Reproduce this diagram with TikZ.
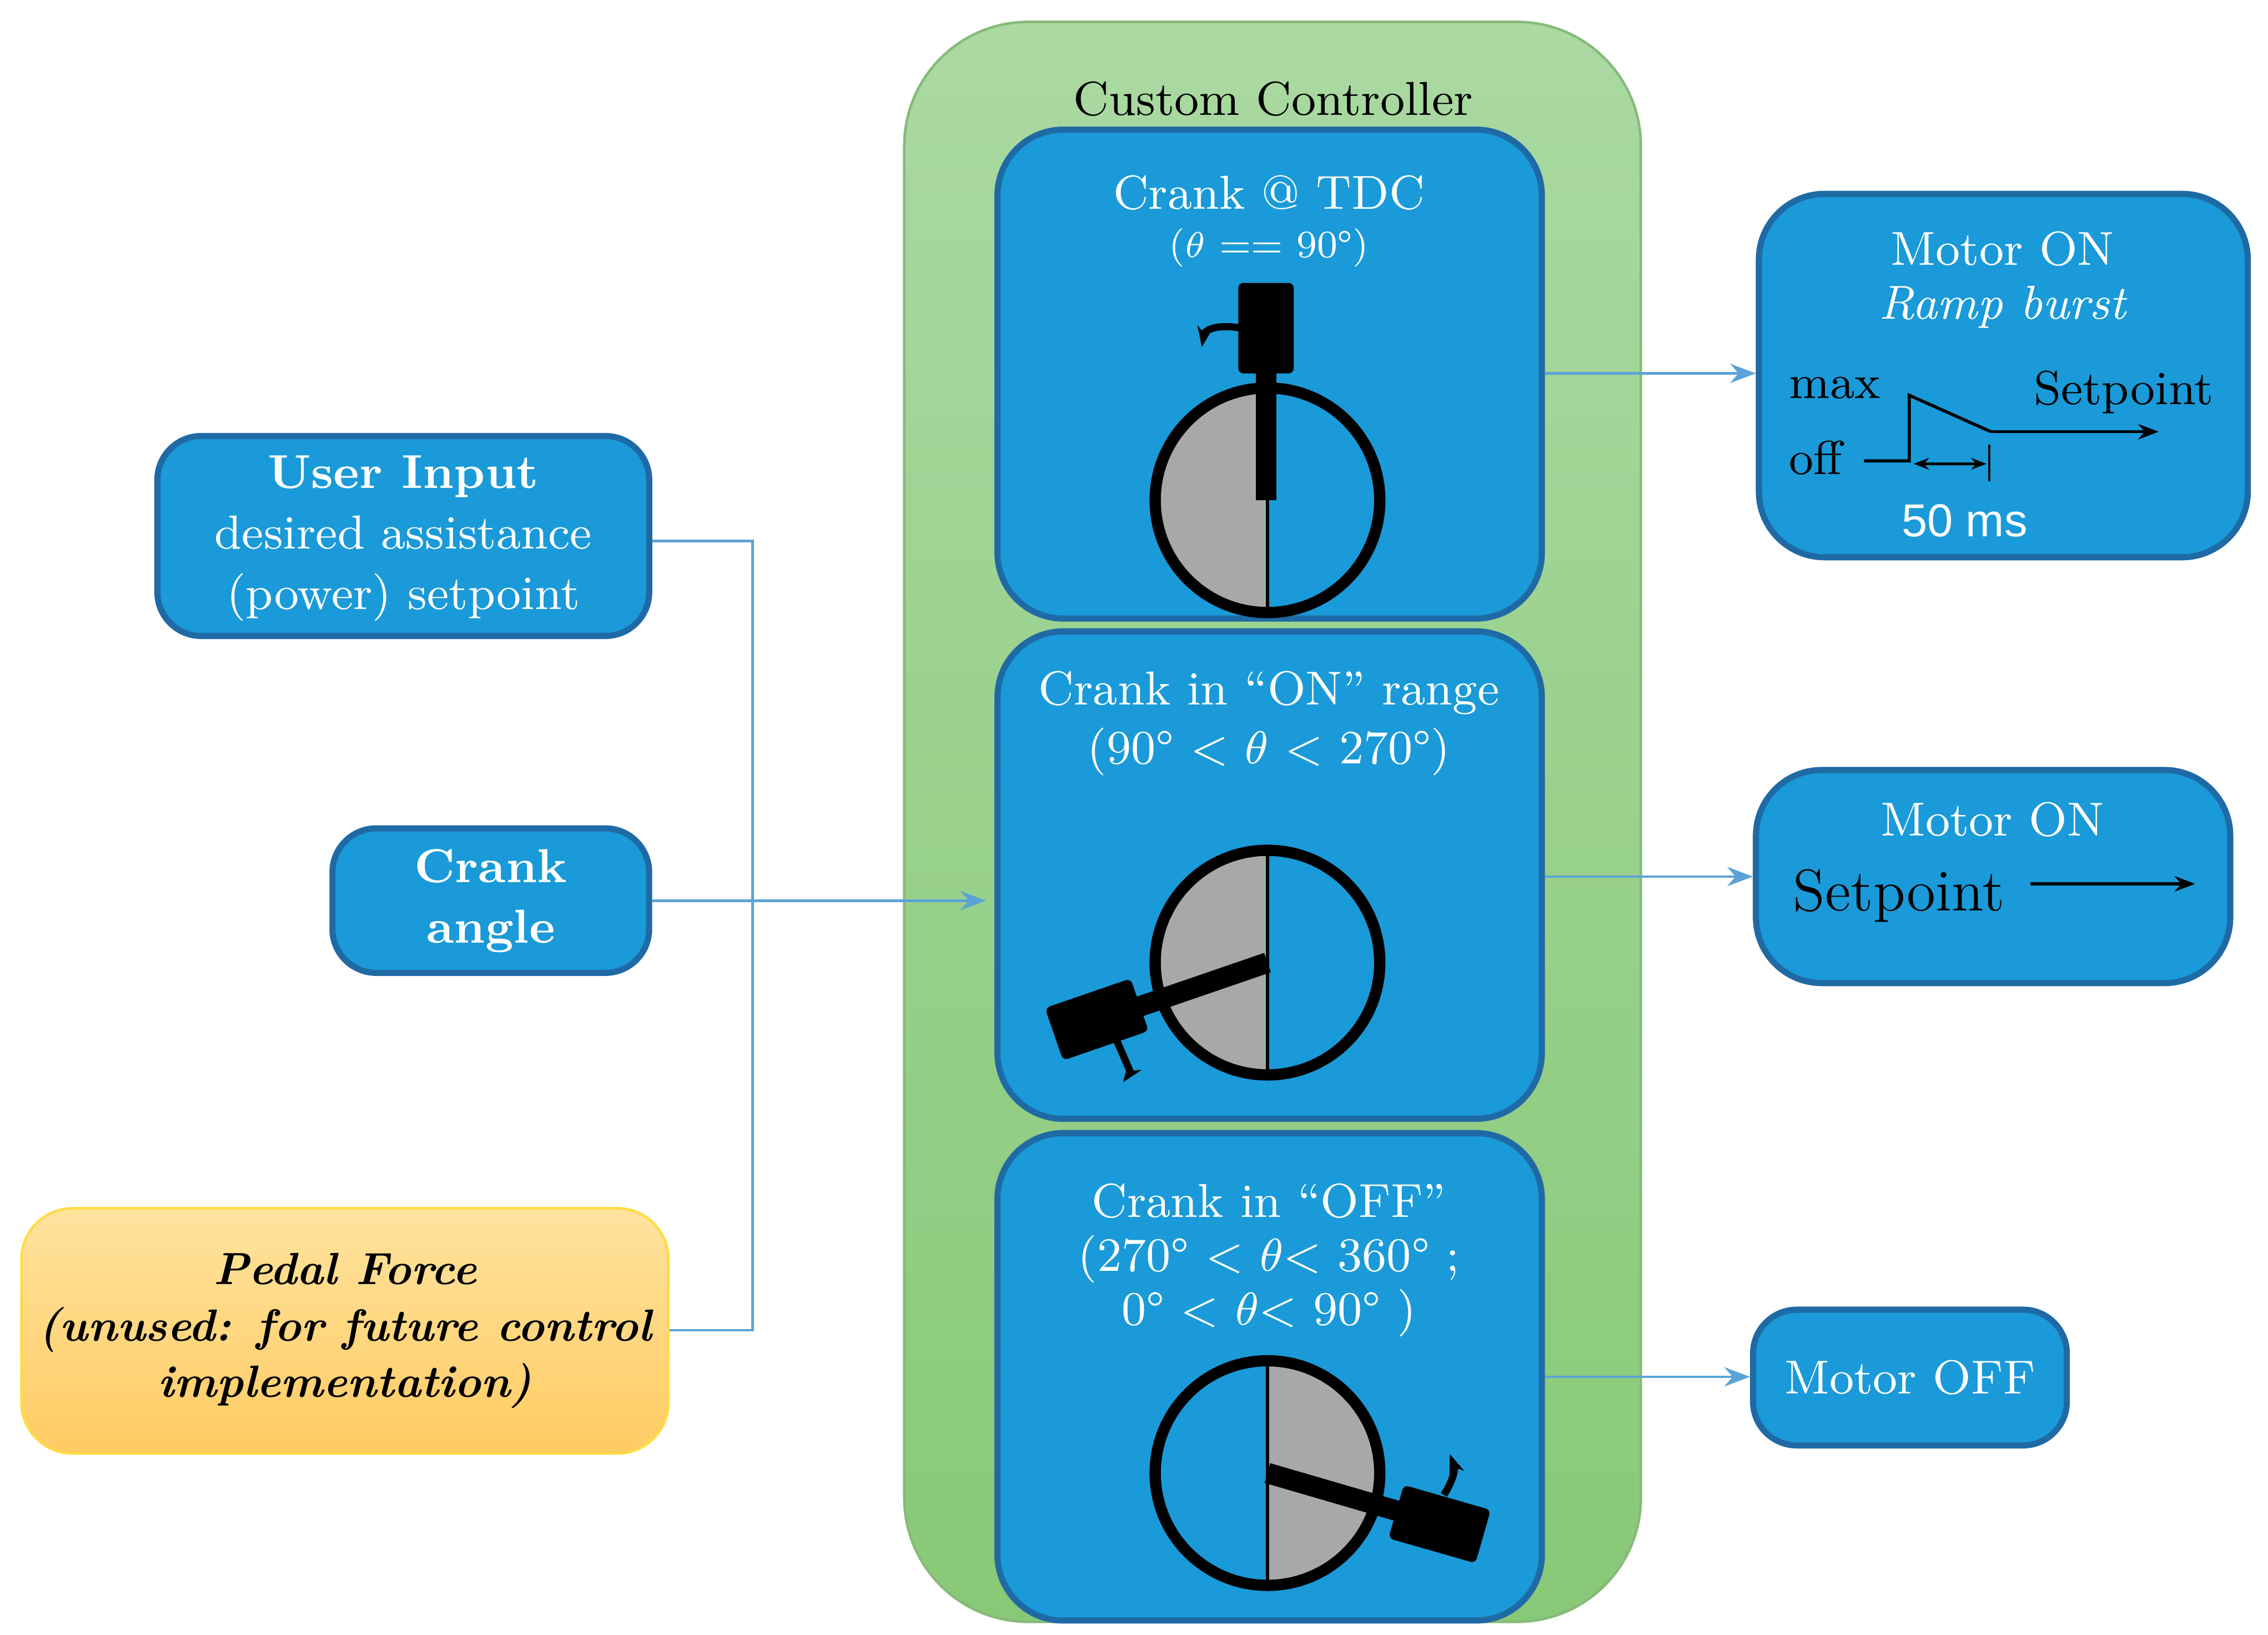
\documentclass[tikz,border=0pt]{standalone}
\usepackage{fontspec}
\newfontfamily\sans{Liberation Sans}
\usetikzlibrary{arrows.meta}
\definecolor{bbox}{HTML}{1A9AD8}
\definecolor{bdr}{HTML}{1F6AA5}
\definecolor{ln}{HTML}{5BA3D6}
\definecolor{pg}{HTML}{A8A8A8}
\definecolor{gtop}{HTML}{AAD9A2}
\definecolor{gbot}{HTML}{88C977}
\definecolor{otop}{HTML}{FFE39E}
\definecolor{obot}{HTML}{FFCB62}
\tikzset{
 blk/.style={draw=bdr,line width=1.2pt,fill=bbox,rounded corners=0.45cm,text=white,align=center},
 conn/.style={draw=ln,line width=0.5pt},
 arr/.style={conn,-{Stealth[length=5pt]}},
 crank/.style={line width=2.2pt},
 pedal/.style={fill=black,rounded corners=1pt,inner sep=0pt},
 t1/.style={font=\fontsize{9.3}{11.5}\selectfont},
 t2/.style={font=\fontsize{7.5}{9}\selectfont},
}
\begin{document}
\begin{tikzpicture}[x=0.01cm,y=-0.01cm]
\useasboundingbox (0,0) rectangle (1555,1121);
% green container
\shade[top color=gtop, bottom color=gbot, rounded corners=0.85cm, draw=gbot!80!gray, line width=0.5pt] (620,15) rectangle (1125,1112);
\node[t1] (cc) at (873,68) {Custom Controller};
% controller blocks
\node[blk,minimum width=3.73cm,minimum height=3.35cm] (top) at (870.5,256.5) {};
\node[blk,minimum width=3.73cm,minimum height=3.34cm] (mid) at (870.5,600) {};
\node[blk,minimum width=3.73cm,minimum height=3.34cm] (bot) at (870.5,944) {};
\node[t1,text=white] (tt1) at (870,132) {Crank @ TDC};
\node[t2,text=white] (tt2) at (870,170) {($\theta$ == 90°)};
\node[t1,text=white,align=center] (mt) at (870,496) {Crank in “ON” range\\(90° < $\theta$ < 270°)};
\node[t1,text=white,align=center] (bt) at (870,864) {Crank in “OFF”\\[-1pt](270° < $\theta$< 360° ;\\[-1pt]0° < $\theta$< 90° )};
% crank top
\begin{scope}\clip (780,250) rectangle (869,440); \fill[pg] (869,343) circle (77);\end{scope}
\draw[line width=0.6pt] (869,266) -- (869,420);
\draw[crank] (869,343) circle (77);
\draw[line width=4pt] (868,343) -- (868,250);
\node[pedal,minimum width=0.38cm,minimum height=0.62cm] (p1) at (868,225) {};
\draw[line width=1.4pt,-{Stealth[length=4pt]}] (851,225) .. controls (835,222) and (826,226) .. (824,238);
% crank mid
\begin{scope}\clip (792,570) rectangle (869,750); \fill[pg] (869,660) circle (77);\end{scope}
\draw[line width=0.6pt] (869,583) -- (869,737);
\draw[crank] (869,660) circle (77);
\draw[line width=4pt] (869,660) -- (770,694);
\node[pedal,rotate=199,minimum width=0.62cm,minimum height=0.38cm] (p2) at (752,699) {};
\draw[line width=1.4pt,-{Stealth[length=4pt]}] (765,712) .. controls (772,728) and (775,735) .. (770,742);
% crank bot
\begin{scope}\clip (869,920) rectangle (960,1100); \fill[pg] (869,1010) circle (77);\end{scope}
\draw[line width=0.6pt] (869,933) -- (869,1087);
\draw[crank] (869,1010) circle (77);
\draw[line width=4pt] (869,1010) -- (965,1038);
\node[pedal,rotate=-16,minimum width=0.62cm,minimum height=0.38cm] (p3) at (987,1045) {};
\draw[line width=1.4pt,-{Stealth[length=4pt]}] (990,1025) .. controls (996,1015) and (998,1008) .. (994,997);
% left blocks
\node[blk,minimum width=3.37cm,minimum height=1.37cm,rounded corners=0.3cm] (ui) at (276.5,367.5) {};
\node[align=center,text=white,font=\fontsize{9.3}{11.8}\selectfont] at (276.5,369) {\textbf{User Input}\\desired assistance\\(power) setpoint};
\node[blk,minimum width=2.17cm,minimum height=0.99cm,rounded corners=0.3cm,font=\fontsize{9.3}{11.8}\selectfont\bfseries] (ca) at (336.5,617.5) {Crank\\angle};
\node[draw=obot!70!yellow,line width=0.5pt,top color=otop,bottom color=obot,rounded corners=0.35cm,minimum width=4.38cm,minimum height=1.68cm,align=center,font=\fontsize{8.8}{11}\selectfont\bfseries\itshape] (pf) at (236.5,912.5) {Pedal Force\\(unused: for future control\\implementation)};
% right blocks
\node[blk,minimum width=3.35cm,minimum height=2.49cm] (r1) at (1373.5,257.5) {};
\node[text=white,t1,align=center] at (1373,192) {Motor ON\\[-1pt]\itshape Ramp burst};
\node[t1] (mx) at (1258,266) {max};
\node[t1] (of) at (1245,314) {off};
\node[t1] (sp) at (1456,269) {Setpoint};
\draw[line width=0.6pt] (1278,316) -- (1309,316) -- (1309,271) -- (1365,296);
\draw[line width=0.6pt,-{Stealth[length=4pt]}] (1365,296) -- (1480,296);
\draw[line width=0.5pt,{Stealth[length=3pt]}-{Stealth[length=3pt]}] (1312,318) -- (1362,318);
\draw[line width=0.4pt] (1364,305) -- (1364,330);
\node[text=white,font=\sans\fontsize{9}{11}\selectfont] (ms) at (1347,357) {50 ms};
\node[blk,minimum width=3.25cm,minimum height=1.46cm] (r2) at (1366.5,601) {};
\node[text=white,t1] at (1366,562) {Motor ON};
\node[font=\fontsize{11.5}{14}\selectfont] (sp2) at (1302,614) {Setpoint};
\draw[line width=0.6pt,-{Stealth[length=4pt]}] (1392,606) -- (1505,606);
\node[blk,minimum width=2.15cm,minimum height=0.93cm,rounded corners=0.3cm,t1] (r3) at (1309.5,944.5) {Motor OFF};
% connectors
\coordinate (j1) at (516,371);
\coordinate (j2) at (516,912);
\draw[conn] (ui.east|-j1) -- (j1) -- (j2) -- (pf.east|-j2);
\draw[arr] (ca.east) -- (676,617.5);
\draw[arr] (top.east|-0,256) -- (r1.west|-0,256);
\draw[arr] (mid.east|-0,601) -- (r2.west|-0,601);
\draw[arr] (bot.east|-0,944) -- (r3.west|-0,944);
\end{tikzpicture}
\end{document}
